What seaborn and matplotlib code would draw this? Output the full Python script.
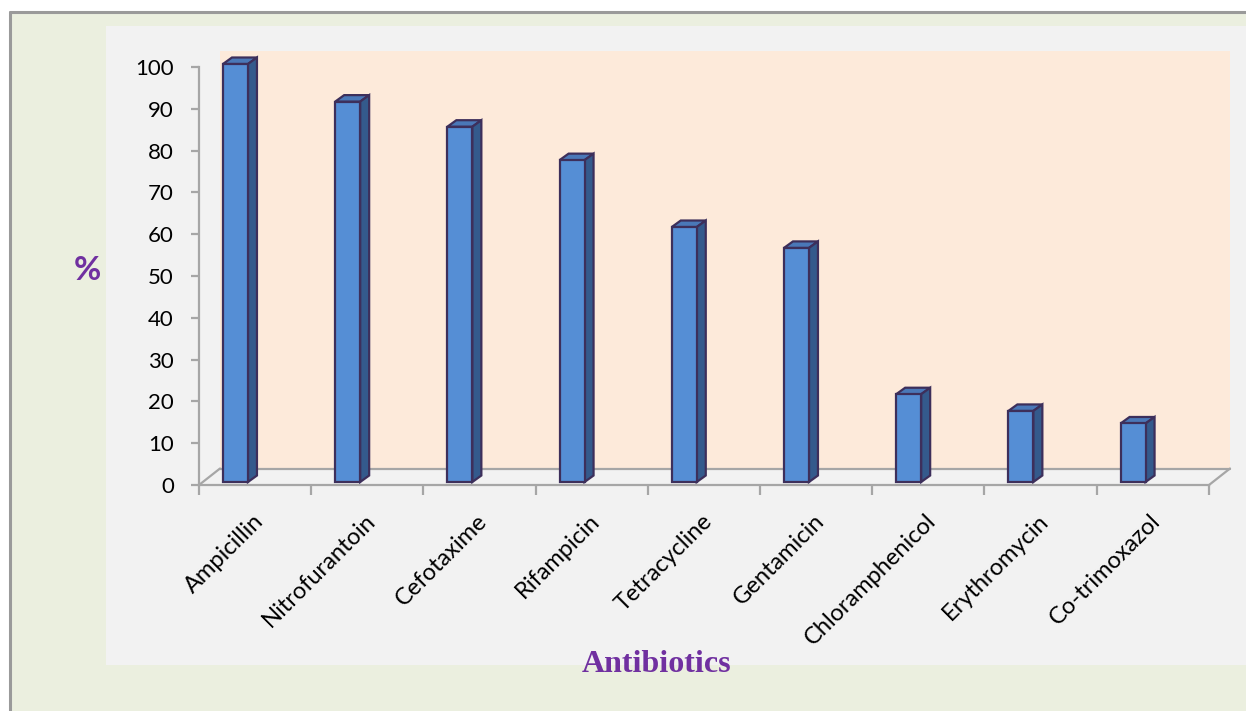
import matplotlib
matplotlib.use("Agg")
import matplotlib.pyplot as plt
import matplotlib.transforms as mtransforms
from matplotlib.patches import Rectangle, Polygon
from matplotlib.lines import Line2D
import seaborn as sns
import pandas as pd

# ---- data ----
antibiotics = ["Ampicillin", "Nitrofurantoin", "Cefotaxime", "Rifampicin",
               "Tetracycline", "Gentamicin", "Chloramphenicol", "Erythromycin",
               "Co-trimoxazol"]
resistance = [100, 91, 85, 77, 61, 56, 21, 17, 14]
y_ticks = [0, 10, 20, 30, 40, 50, 60, 70, 80, 90, 100]
y_label = "%"
x_label = "Antibiotics"

df = pd.DataFrame({"antibiotic": antibiotics, "value": resistance})

sns.set_theme(style="white")
plt.rcParams["font.family"] = ["Lato", "DejaVu Sans"]

W, H = 1246, 711
dpi = 100
fig = plt.figure(figsize=(W / dpi, H / dpi), dpi=dpi)
fig.patch.set_facecolor("white")

def fx(px):
    return px / W

def fy(py):
    return 1 - py / H

# outer panel
fig.patches.append(Rectangle((fx(10), 0), 1 - fx(10), fy(12), transform=fig.transFigure,
                             facecolor="#EBEFDF", edgecolor="none", zorder=-3))
fig.lines.append(Line2D([fx(10), fx(10)], [0, fy(12)], transform=fig.transFigure,
                        color="#9A9A9A", lw=2.2, zorder=-1))
fig.lines.append(Line2D([fx(10), 1], [fy(12), fy(12)], transform=fig.transFigure,
                        color="#9A9A9A", lw=2.2, zorder=-1))
# inner chart area
fig.patches.append(Rectangle((fx(106), fy(665)), 1 - fx(106), fy(26) - fy(665),
                             transform=fig.transFigure, facecolor="#F2F2F2",
                             edgecolor="none", zorder=-2))

# axes = front plane
ax_l, ax_r, ax_t, ax_b = 199, 1209, 67, 485
ax = fig.add_axes([fx(ax_l), fy(ax_b), fx(ax_r - ax_l), fy(ax_t) - fy(ax_b)])
ax.set_facecolor("none")

bar_w = 25 / 112.2
sns.barplot(data=df, x="antibiotic", y="value", order=antibiotics, ax=ax,
            width=bar_w, color="#558ED5", edgecolor="#3D2F5B", linewidth=1.6,
            saturation=1, zorder=5)

x0 = -0.325
x1 = x0 + (ax_r - ax_l) / 112.2
ax.set_xlim(x0, x1)
ax.set_ylim(0, 100)

px_x = (ax_r - ax_l) / (x1 - x0)
px_y = (ax_b - ax_t) / 100.0

def shifted(dx_px, dy_px):
    return ax.transData + mtransforms.ScaledTranslation(dx_px / dpi, dy_px / dpi, fig.dpi_scale_trans)

# back wall and floor (depth offset)
wall_dx, wall_dy = 21, 16.5
wall = Rectangle((x0, 0), x1 - x0, 100, transform=shifted(wall_dx, wall_dy),
                 facecolor="#FDEADA", edgecolor="none", zorder=1, clip_on=False)
ax.add_patch(wall)
gray = "#A6A6A6"
ax.add_line(Line2D([x0, x1], [0, 0], transform=shifted(wall_dx, wall_dy), color=gray,
                   lw=1.6, zorder=2, clip_on=False))
for xe in (x0, x1):
    ax.add_line(Line2D([xe, xe + wall_dx / px_x], [0, wall_dy / px_y], color=gray,
                       lw=1.6, zorder=2, clip_on=False))

# pseudo-3D bars
lift = 3
depth_dx, depth_dy = 9 / px_x, 6.5 / px_y
for p in list(ax.patches):
    if not isinstance(p, Rectangle) or p is wall:
        continue
    p.set_transform(shifted(0, lift))
    p.set_clip_on(False)
    bx, bw, bh = p.get_x(), p.get_width(), p.get_height()
    top = Polygon([(bx, bh), (bx + bw, bh), (bx + bw + depth_dx, bh + depth_dy),
                   (bx + depth_dx, bh + depth_dy)], closed=True,
                  transform=shifted(0, lift), facecolor="#4A78B8",
                  edgecolor="#3D2F5B", lw=1.6, zorder=4, clip_on=False)
    side = Polygon([(bx + bw, 0), (bx + bw + depth_dx, depth_dy),
                    (bx + bw + depth_dx, bh + depth_dy), (bx + bw, bh)], closed=True,
                   transform=shifted(0, lift), facecolor="#345A8C",
                   edgecolor="#3D2F5B", lw=1.6, zorder=4, clip_on=False)
    ax.add_patch(top)
    ax.add_patch(side)

# spines
for s in ("top", "right"):
    ax.spines[s].set_visible(False)
for s in ("left", "bottom"):
    ax.spines[s].set_color(gray)
    ax.spines[s].set_linewidth(1.6)

ax.set_yticks(y_ticks)
ax.set_yticklabels([str(v) for v in y_ticks], fontsize=16, color="black")
ax.tick_params(axis="y", which="major", direction="out", length=6, width=1.6,
               color=gray, pad=12, left=True)

# category tick marks (minor) & labels (major)
ax.set_xticks([x0 + k for k in range(len(antibiotics) + 1)], minor=True)
ax.set_xticks([i + 0.15 for i in range(len(antibiotics))])
ax.set_xticklabels(antibiotics, rotation=45, ha="right", rotation_mode="anchor",
                   fontsize=17, color="black")
ax.tick_params(axis="x", which="minor", direction="out", length=7, width=1.6,
               color=gray, bottom=True)
ax.tick_params(axis="x", which="major", length=0, pad=18, bottom=True)
ax.set_xlabel("")
ax.set_ylabel("")

fig.text(fx(87), fy(270), y_label, fontsize=24, fontweight="bold", color="#7030A0",
         ha="center", va="center")
fig.text(fx(657), fy(665), x_label, fontsize=23, fontweight="bold", color="#7030A0",
         ha="center", va="center", family=["Liberation Serif", "DejaVu Serif"])

fig.savefig("out.png", dpi=dpi, facecolor=fig.get_facecolor())
